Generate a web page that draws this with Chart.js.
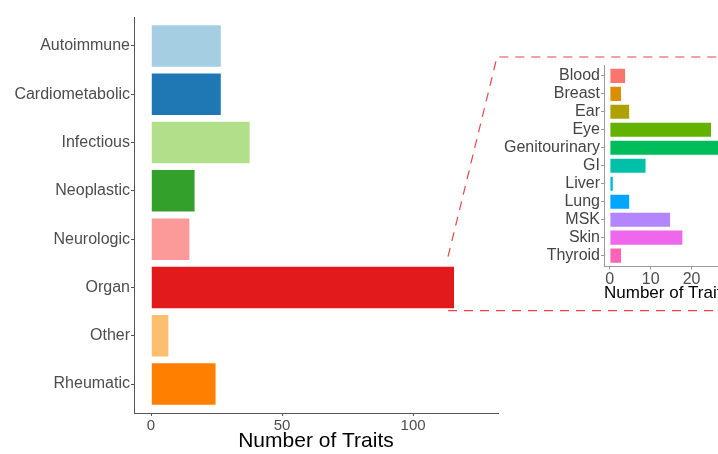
<!DOCTYPE html>
<html>
<head>
<meta charset="utf-8">
<script src="https://cdn.jsdelivr.net/npm/chart.js@4"></script>
<style>
  html, body { margin: 0; padding: 0; background: #fff; overflow: hidden; }
  #wrap { position: relative; width: 718px; height: 454px; overflow: hidden; }
  #main { position: absolute; left: 0; top: 0; }
  #inset { position: absolute; left: 490px; top: 50px; }
</style>
</head>
<body>
<div id="wrap">
  <canvas id="main" width="718" height="454"></canvas>
  <canvas id="inset" width="250" height="260"></canvas>
</div>
<script>
// main panel: trait counts per category
var categories = ["Autoimmune", "Cardiometabolic", "Infectious", "Neoplastic", "Neurologic", "Organ", "Other", "Rheumatic"];
var traitCounts = [27, 27, 38, 17, 15, 116, 7, 25];
var categoryColors = ["#A6CEE3", "#1F78B4", "#B2DF8A", "#33A02C", "#FB9A99", "#E31A1C", "#FDBF6F", "#FF7F00"];
var mainTicks = [0, 50, 100];

// inset: the "Organ" category split by organ
var organs = ["Blood", "Breast", "Ear", "Eye", "Genitourinary", "GI", "Liver", "Lung", "MSK", "Skin", "Thyroid"];
var organCounts = [4, 3, 5, 25, 28, 9, 1, 5, 15, 18, 3];
var organColors = ["#F8766D", "#DB8E00", "#AEA200", "#64B200", "#00BD5C", "#00C1A7", "#00BADE", "#00A6FF", "#B385FF", "#EF67EB", "#FF63B6"];
var insetTicks = [0, 10, 20];

var FONT = "'Liberation Sans', Arial, Helvetica, sans-serif";

// dashed red lines linking the Organ bar to the inset
var zoomLines = {
  id: "zoomLines",
  afterDraw: function (chart) {
    var xs = chart.scales.x, ys = chart.scales.y;
    var i = categories.indexOf("Organ");
    var xEnd = xs.getPixelForValue(traitCounts[i]);
    var top = ys.getPixelForValue(i - 0.45);
    var bottom = ys.getPixelForValue(i + 0.45);
    var ctx = chart.ctx;
    ctx.save();
    ctx.strokeStyle = "#e8474c";
    ctx.lineWidth = 1.2;
    ctx.setLineDash([9, 7]);
    ctx.beginPath();
    ctx.moveTo(xEnd - 7, top - 9);
    ctx.lineTo(497, 57);
    ctx.lineTo(718, 57);
    ctx.moveTo(xEnd - 7, bottom + 1.5);
    ctx.lineTo(718, bottom + 1.5);
    ctx.stroke();
    ctx.restore();
  }
};

function barChart(canvas, labels, values, colors, opts) {
  return new Chart(canvas, {
    type: "bar",
    data: {
      labels: labels.map(function (_, i) { return i; }),
      datasets: [{
        data: values,
        backgroundColor: colors,
        borderColor: "rgba(255,255,255,0.45)",
        borderWidth: 1,
        barPercentage: 0.9,
        categoryPercentage: 1.0
      }]
    },
    options: {
      indexAxis: "y",
      responsive: false,
      animation: false,
      layout: { padding: opts.padding },
      plugins: { legend: { display: false }, tooltip: { enabled: false } },
      scales: {
        x: {
          type: "linear",
          min: opts.xMin,
          max: opts.xMax,
          afterBuildTicks: function (s) { s.ticks = opts.xTicks.map(function (v) { return { value: v }; }); },
          afterFit: function (s) { s.height = opts.xHeight; },
          grid: { display: true, drawOnChartArea: false, drawTicks: true, tickLength: 3, color: opts.axisColor },
          border: { display: true, color: opts.axisColor, width: 1 },
          ticks: { color: "#4d4d4d", font: { family: FONT, size: opts.tickSize }, padding: opts.xTickPad, maxRotation: 0 },
          title: {
            display: true,
            text: "Number of Traits",
            color: "#000",
            font: { family: FONT, size: opts.titleSize },
            padding: { top: 0, bottom: opts.titlePad }
          }
        },
        y: {
          type: "linear",
          reverse: true,
          offset: false,
          bounds: "data",
          min: -0.6,
          max: labels.length - 0.4,
          afterBuildTicks: function (s) { s.ticks = labels.map(function (_, i) { return { value: i }; }); },
          afterFit: function (s) { s.width = opts.yWidth; },
          grid: { display: true, offset: false, drawOnChartArea: false, drawTicks: true, tickLength: 3, color: opts.axisColor },
          border: { display: true, color: opts.axisColor, width: 1 },
          ticks: {
            color: opts.labelColor,
            font: { family: FONT, size: opts.labelSize },
            padding: 1,
            autoSkip: false,
            callback: function (v) { return labels[v]; }
          }
        }
      }
    },
    plugins: opts.plugins || []
  });
}

barChart(document.getElementById("main"), categories, traitCounts, categoryColors, {
  padding: { top: 17, right: 220, left: 0, bottom: 0 },
  xMin: -6.5, xMax: 132.4, xTicks: mainTicks,
  xHeight: 41, yWidth: 134,
  axisColor: "#555", labelColor: "#4d4d4d",
  tickSize: 15, labelSize: 16, titleSize: 21, xTickPad: 1, titlePad: 0,
  plugins: [zoomLines]
});

barChart(document.getElementById("inset"), organs, organCounts, organColors, {
  padding: { top: 15, right: 10, left: 0, bottom: 0 },
  xMin: -1.4, xMax: 29.4, xTicks: insetTicks,
  xHeight: 43.5, yWidth: 114,
  axisColor: "#9a9a9a", labelColor: "#444",
  tickSize: 16, labelSize: 16, titleSize: 17, xTickPad: 0, titlePad: 6
});
</script>
</body>
</html>
